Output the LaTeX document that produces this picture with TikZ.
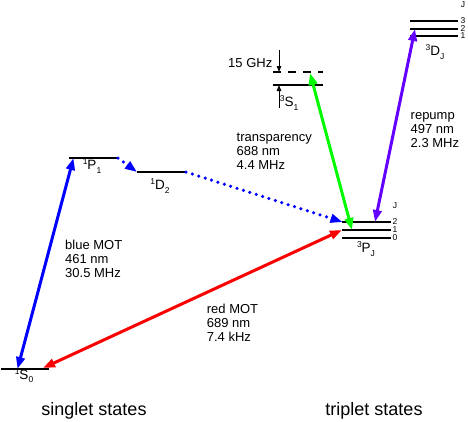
\documentclass[tikz,border=0pt]{standalone}
\usepackage{fontspec}
\setmainfont{Liberation Sans}
\usetikzlibrary{arrows.meta,calc}
\definecolor{cblue}{RGB}{0,0,255}
\definecolor{cred}{RGB}{250,0,0}
\definecolor{cgreen}{RGB}{0,250,0}
\definecolor{cviolet}{RGB}{100,0,255}
\newcommand{\termlbl}[3]{\raisebox{5pt}{\fontsize{8.5}{8.5}\selectfont #1}#2\raisebox{-3.5pt}{\fontsize{8.5}{8.5}\selectfont #3}}
\begin{document}
\begin{tikzpicture}[x=1pt,y=-1pt,
  level/.style={line width=2pt},
  lbl/.style={inner sep=0pt,anchor=base,font=\fontsize{13.5}{13.5}\selectfont},
  small/.style={inner sep=0pt,font=\fontsize{8.5}{8.5}\selectfont},
  txt/.style={inner sep=0pt,anchor=north west,align=left,font=\fontsize{13}{14}\selectfont},
  big/.style={inner sep=0pt,anchor=base,font=\fontsize{18}{18}\selectfont},
  trans/.style={line width=3pt,-{Triangle[length=12pt,width=8.5pt]}},
  dtrans/.style={line width=3pt,{Triangle[length=12pt,width=8.5pt]}-{Triangle[length=12pt,width=8.5pt]}},
  dotl/.style={line width=3.5pt,line cap=round,dash pattern=on 0pt off 6.7pt},
  thin/.style={line width=1pt,-{Triangle[length=6pt,width=4.5pt]}}]
\useasboundingbox (0,0) rectangle (468,421);
% levels
\draw[level] (1,369) coordinate (s0a) -- (49,369) coordinate (s0b);
\draw[level] (69,157.5) coordinate (p1a) -- (117,157.5) coordinate (p1b);
\draw[level] (137,172) coordinate (d2a) -- (185,172) coordinate (d2b);
\draw[level] (342,222) -- (391,222);
\draw[level] (342,230) -- (391,230);
\draw[level] (342,238) -- (391,238);
\draw[level] (273,85) -- (323,85);
\draw[level,dash pattern=on 8pt off 7pt] (273,72) -- (323,72);
\draw[level] (410,21) -- (458,21);
\draw[level] (410,28.5) -- (458,28.5);
\draw[level] (410,36) -- (458,36);
% level labels
\node[lbl] (ls0) at (24,379) {\termlbl{1}{S}{0}};
\node[lbl] (lp1) at (92,169.5) {\termlbl{1}{P}{1}};
\node[lbl] (ld2) at (160,189.5) {\termlbl{1}{D}{2}};
\node[lbl] (lpj) at (366,252.5) {\termlbl{3}{P}{J}};
\node[lbl] (ls1) at (289,106.5) {\termlbl{3}{S}{1}};
\node[lbl] (ldj) at (435,55.5) {\termlbl{3}{D}{J}};
\node[small] (pjJ) at (395,206) {J};
\node[small] (pj2) at (395,222) {2};
\node[small] (pj1) at (395,230) {1};
\node[small] (pj0) at (395,238) {0};
\node[small] (djJ) at (463,5) {J};
\node[small] (dj3) at (463,21) {3};
\node[small] (dj2) at (463,28.5) {2};
\node[small] (dj1) at (463,36) {1};
% tip coordinates
\coordinate (bmA) at (17.5,369);
\coordinate (bmB) at (73.5,158);
\coordinate (rmA) at (43,368);
\coordinate (rmB) at (342,230);
\coordinate (dtA) at (118,158);
\coordinate (dtB) at (137,172);
\coordinate (dtC) at (186,172);
\coordinate (dtD) at (342.5,222);
\coordinate (grA) at (310,73);
\coordinate (grB) at (352,230);
\coordinate (viA) at (415,29);
\coordinate (viB) at (375,222);
\coordinate (upA) at (279,108);
\coordinate (upB) at (279,85);
\coordinate (dnA) at (279,50);
\coordinate (dnB) at (279,72);
% transitions
\draw[dtrans,cblue] (bmA) -- (bmB);
\draw[dtrans,cred] (rmA) -- (rmB);
\draw[dtrans,cgreen] (grA) -- (grB);
\draw[dtrans,cviolet] (viA) -- (viB);
\draw[dotl,cblue] (dtA) -- ($(dtB)!11pt!(dtA)$);
\draw[trans,cblue] ($(dtB)!12pt!(dtA)$) -- (dtB);
\draw[dotl,cblue] (dtC) -- ($(dtD)!11pt!(dtC)$);
\draw[trans,cblue] ($(dtD)!12pt!(dtC)$) -- (dtD);
\draw[thin] (upA) -- (upB);
\draw[thin] (dnA) -- (dnB);
% texts
\node[inner sep=0pt,anchor=base east,font=\fontsize{13}{14}\selectfont] (ghz) at (272.5,67) {15 GHz};
\node[txt] (tbm) at (65,239.5) {\strut blue MOT\\461 nm\\30.5 MHz};
\node[txt] (trm) at (206.7,303.5) {\strut red MOT\\689 nm\\7.4 kHz};
\node[txt] (ttr) at (236.5,131.5) {\strut transparency\\688 nm\\4.4 MHz};
\node[txt] (trp) at (410.5,109.2) {\strut repump\\497 nm\\2.3 MHz};
\node[big] (sing) at (94,415) {singlet states};
\node[big] (trip) at (374,415) {triplet states};
\end{tikzpicture}
\end{document}
